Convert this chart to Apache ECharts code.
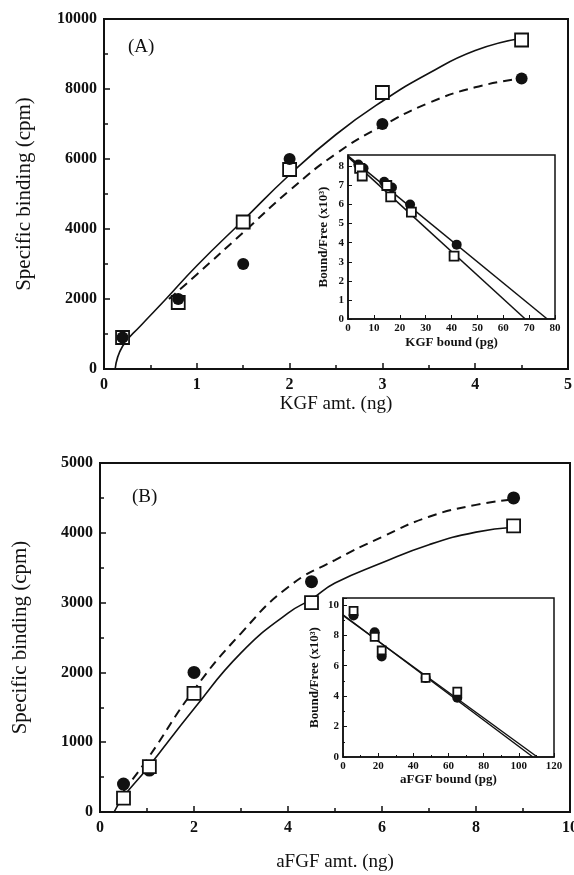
<!DOCTYPE html>
<html>
<head>
<meta charset="utf-8">
<script src="https://cdn.jsdelivr.net/npm/echarts@6/dist/echarts.min.js"></script>
<style>
  html, body { margin: 0; padding: 0; background: #fff; }
  #main { width: 574px; height: 875px; }
</style>
</head>
<body>
<div id="main"></div>
<script>
// ---- panel A: KGF ----
var kgfAmt = [0.2, 0.8, 1.5, 2.0, 3.0, 4.5];
var kgfSquare = [900, 1900, 4200, 5700, 7900, 9400];
var kgfCircle = [900, 2000, 3000, 6000, 7000, 8300];
var kgfSolidX = [0.12, 0.2, 0.4, 0.65, 1.0, 1.5, 2.0, 2.5, 3.0, 3.5, 4.0, 4.5];
var kgfSolidY = [0, 650, 1250, 1950, 2950, 4250, 5550, 6700, 7650, 8450, 9100, 9450];
var kgfDashX = [0.7, 1.0, 1.5, 2.0, 2.5, 3.0, 3.5, 4.0, 4.5];
var kgfDashY = [2000, 2700, 3900, 5100, 6150, 6950, 7600, 8050, 8300];

// inset A (Scatchard)
var kgfBoundSq = [4.5, 5.5, 15, 16.5, 24.5, 41];
var kgfRatioSq = [7.9, 7.5, 7.0, 6.4, 5.6, 3.3];
var kgfBoundCi = [4, 6, 14, 17, 24, 42];
var kgfRatioCi = [8.1, 7.9, 7.2, 6.9, 6.0, 3.9];
var kgfFitSqX = [0, 68.5], kgfFitSqY = [8.5, 0];
var kgfFitCiX = [0, 77], kgfFitCiY = [8.55, 0];

// ---- panel B: aFGF ----
var afgfAmt = [0.5, 1.05, 2.0, 4.5, 8.8];
var afgfSquare = [200, 650, 1700, 3000, 4100];
var afgfCircle = [400, 600, 2000, 3300, 4500];
var afgfSolidX = [0.3, 0.5, 1.0, 2.0, 3.0, 4.0, 4.5, 5.0, 6.0, 7.0, 8.0, 8.8];
var afgfSolidY = [0, 220, 620, 1480, 2280, 2850, 3050, 3280, 3570, 3830, 4010, 4080];
var afgfDashX = [0.5, 1.0, 2.0, 3.0, 4.0, 5.0, 6.0, 7.0, 8.0, 8.8];
var afgfDashY = [300, 750, 1750, 2560, 3220, 3610, 3940, 4230, 4400, 4480];

// inset B (Scatchard)
var afgfBoundSq = [6, 18, 22, 47, 65];
var afgfRatioSq = [9.6, 7.9, 7.0, 5.2, 4.3];
var afgfBoundCi = [6, 18, 22, 47, 65];
var afgfRatioCi = [9.3, 8.2, 6.6, 5.2, 3.9];
var afgfFitSqX = [0, 110.5], afgfFitSqY = [9.3, 0];
var afgfFitCiX = [0, 108], afgfFitCiY = [9.35, 0];

function pairs(xs, ys) {
  return xs.map(function (x, i) { return [x, ys[i]]; });
}

var serif = 'Liberation Serif';
var black = '#111';

function mainX(idx, min, max, interval, name, gap) {
  return {
    gridIndex: idx, type: 'value', min: min, max: max, interval: interval,
    name: name, nameLocation: 'middle', nameGap: gap,
    nameTextStyle: { fontFamily: serif, fontSize: 19, color: black },
    axisLine: { lineStyle: { color: black, width: 2 } },
    axisTick: { inside: true, length: 6, lineStyle: { color: black, width: 1.5 } },
    minorTick: { show: true, splitNumber: 2, length: 4, lineStyle: { color: black, width: 1.5 } },
    axisLabel: { fontFamily: serif, fontSize: 16, fontWeight: 'bold', color: black, margin: 8,
      formatter: function (v) { return String(v); } },
    splitLine: { show: false }
  };
}
function mainY(idx, min, max, interval, name, gap) {
  var a = mainX(idx, min, max, interval, name, gap);
  a.nameTextStyle.fontSize = 21;
  a.axisLabel.margin = 7;
  return a;
}
function insetAxis(idx, min, max, interval, name, gap, minorSplit, hideMax) {
  return {
    gridIndex: idx, type: 'value', min: min, max: max, interval: interval, z: 4,
    name: name, nameLocation: 'middle', nameGap: gap,
    nameTextStyle: { fontFamily: serif, fontSize: 13, fontWeight: 'bold', color: black },
    axisLine: { lineStyle: { color: black, width: 1.5 } },
    axisTick: { inside: true, length: 4, lineStyle: { color: black } },
    minorTick: { show: minorSplit > 0, splitNumber: minorSplit || 2, length: 2, lineStyle: { color: black } },
    axisLabel: { fontFamily: serif, fontSize: 11, fontWeight: 'bold', color: black, margin: 4,
      showMaxLabel: !hideMax, formatter: function (v) { return String(v); } },
    splitLine: { show: false }
  };
}

function squares(xi, yi, data, size, z) {
  return {
    type: 'scatter', xAxisIndex: xi, yAxisIndex: yi, data: data, symbol: 'rect',
    symbolSize: size, z: z, silent: true,
    itemStyle: { color: '#fff', borderColor: black, borderWidth: 1.8, opacity: 1 }
  };
}
function circles(xi, yi, data, size, z) {
  return {
    type: 'scatter', xAxisIndex: xi, yAxisIndex: yi, data: data, symbol: 'circle',
    symbolSize: size, z: z, silent: true, itemStyle: { color: black, opacity: 1 }
  };
}
function curve(xi, yi, data, dashed, z, width) {
  return {
    type: 'line', xAxisIndex: xi, yAxisIndex: yi, data: data, smooth: true,
    showSymbol: false, z: z, silent: true,
    lineStyle: { color: black, width: width, type: dashed ? [9, 6] : 'solid' }
  };
}

var chart = echarts.init(document.getElementById('main'));
chart.setOption({
  animation: false,
  backgroundColor: '#fff',
  grid: [
    { left: 104, top: 19, width: 464, height: 350, show: true, borderColor: black, borderWidth: 2,
      backgroundColor: 'transparent', outerBoundsMode: 'none' },
    { left: 348, top: 155, width: 207, height: 164, show: true, borderColor: black, borderWidth: 1.5,
      backgroundColor: '#fff', z: 3, outerBoundsMode: 'none' },
    { left: 100, top: 463, width: 470, height: 349, show: true, borderColor: black, borderWidth: 2,
      backgroundColor: 'transparent', outerBoundsMode: 'none' },
    { left: 343, top: 598, width: 211, height: 159, show: true, borderColor: black, borderWidth: 1.5,
      backgroundColor: '#fff', z: 3, outerBoundsMode: 'none' }
  ],
  xAxis: [
    mainX(0, 0, 5, 1, 'KGF amt. (ng)', 26),
    insetAxis(1, 0, 80, 10, 'KGF bound (pg)', 17, 0, false),
    mainX(2, 0, 10, 2, 'aFGF amt. (ng)', 41),
    insetAxis(3, 0, 120, 20, 'aFGF bound (pg)', 15, 2, false)
  ],
  yAxis: [
    mainY(0, 0, 10000, 2000, 'Specific binding (cpm)', 69),
    insetAxis(1, 0, 8.6, 1, 'Bound/Free (x10³)', 18, 0, true),
    mainY(2, 0, 5000, 1000, 'Specific binding (cpm)', 69),
    insetAxis(3, 0, 10.45, 2, 'Bound/Free (x10³)', 22, 2, true)
  ],
  graphic: [
    { type: 'text', left: 128, top: 38, style: { text: '(A)', font: '19px "Liberation Serif"', fill: black } },
    { type: 'text', left: 132, top: 488, style: { text: '(B)', font: '19px "Liberation Serif"', fill: black } }
  ],
  series: [
    curve(0, 0, pairs(kgfSolidX, kgfSolidY), false, 2, 1.6),
    curve(0, 0, pairs(kgfDashX, kgfDashY), true, 2, 2),
    squares(0, 0, pairs(kgfAmt, kgfSquare), 13, 2),
    circles(0, 0, pairs(kgfAmt, kgfCircle), 12, 2),

    curve(1, 1, pairs(kgfFitSqX, kgfFitSqY), false, 5, 1.5),
    curve(1, 1, pairs(kgfFitCiX, kgfFitCiY), false, 5, 1.5),
    circles(1, 1, pairs(kgfBoundCi, kgfRatioCi), 10, 5),
    squares(1, 1, pairs(kgfBoundSq, kgfRatioSq), 9, 5),

    curve(2, 2, pairs(afgfSolidX, afgfSolidY), false, 2, 1.6),
    curve(2, 2, pairs(afgfDashX, afgfDashY), true, 2, 2),
    circles(2, 2, pairs(afgfAmt, afgfCircle), 13, 2),
    squares(2, 2, pairs(afgfAmt, afgfSquare), 13, 2),

    curve(3, 3, pairs(afgfFitSqX, afgfFitSqY), false, 5, 1.5),
    curve(3, 3, pairs(afgfFitCiX, afgfFitCiY), false, 5, 1.5),
    circles(3, 3, pairs(afgfBoundCi, afgfRatioCi), 10, 5),
    squares(3, 3, pairs(afgfBoundSq, afgfRatioSq), 8, 5)
  ]
});
</script>
</body>
</html>
